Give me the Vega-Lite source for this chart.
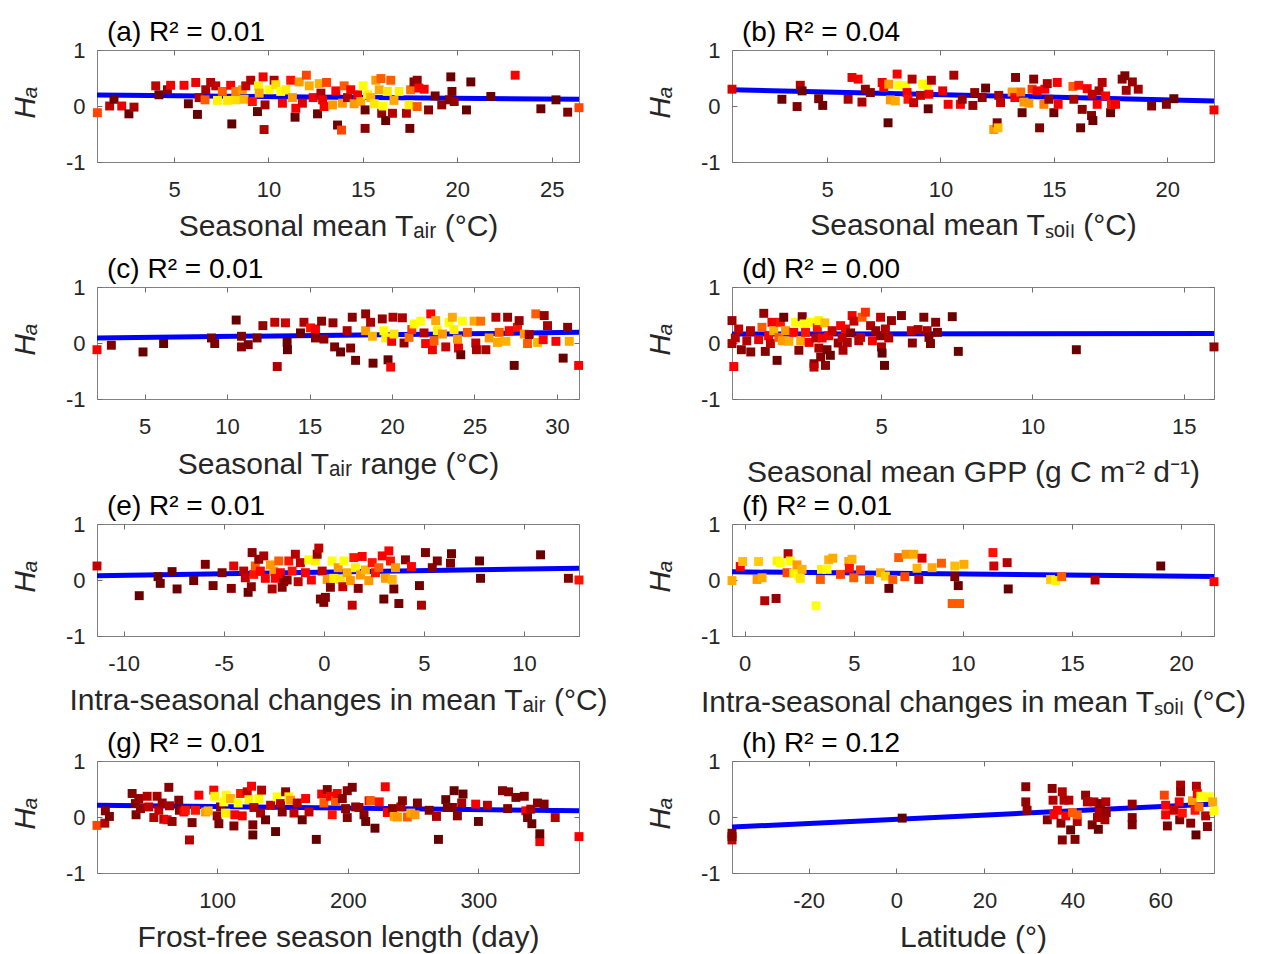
{
"$schema": "https://vega.github.io/schema/vega-lite/v6.json",
"padding": {"left": 9, "top": 18, "right": 5, "bottom": 2},
"background": "white",
"bounds": "flush",
"columns": 2,
"spacing": {"row": 125, "column": 153},
"datasets": {
"a": [{"x":0.94,"y":-0.12,"c":0.42},{"x":1.59,"y":0,"c":0.25},{"x":1.82,"y":0.12,"c":0.05},{"x":2.23,"y":0,"c":0.33},{"x":2.61,"y":-0.14,"c":0.05},{"x":2.88,"y":-0.02,"c":0.2},{"x":4.03,"y":0.36,"c":0.25},{"x":4.2,"y":0.2,"c":0.07},{"x":4.65,"y":0.29,"c":0.12},{"x":4.82,"y":0.37,"c":0.35},{"x":5.53,"y":0.37,"c":0.36},{"x":5.76,"y":0.04,"c":0.05},{"x":6.15,"y":0.42,"c":0.33},{"x":6.24,"y":-0.15,"c":0.03},{"x":6.33,"y":0.15,"c":0.2},{"x":6.64,"y":0.11,"c":0.45},{"x":6.68,"y":0.29,"c":0.18},{"x":6.94,"y":0.42,"c":0.22},{"x":7.21,"y":0.36,"c":0.25},{"x":7.3,"y":0.1,"c":0.72},{"x":7.56,"y":0.26,"c":0.45},{"x":7.83,"y":0.1,"c":0.7},{"x":8.0,"y":0.37,"c":0.36},{"x":8.06,"y":-0.32,"c":0.03},{"x":8.27,"y":0.11,"c":0.68},{"x":8.27,"y":0.26,"c":0.5},{"x":8.62,"y":0.29,"c":0.55},{"x":8.71,"y":0.12,"c":0.6},{"x":8.8,"y":0.36,"c":0.25},{"x":9.06,"y":0.46,"c":0.22},{"x":9.15,"y":0.08,"c":0.38},{"x":9.42,"y":-0.1,"c":0.04},{"x":9.47,"y":0.36,"c":0.72},{"x":9.51,"y":0.23,"c":0.58},{"x":9.72,"y":0.52,"c":0.35},{"x":9.77,"y":-0.42,"c":0.22},{"x":9.82,"y":0.02,"c":0.18},{"x":10.04,"y":0.29,"c":0.75},{"x":10.3,"y":0.46,"c":0.2},{"x":10.39,"y":0.38,"c":0.68},{"x":10.65,"y":0.26,"c":0.78},{"x":10.74,"y":0.05,"c":0.35},{"x":10.92,"y":0.29,"c":0.72},{"x":11.18,"y":0.46,"c":0.38},{"x":11.27,"y":0.15,"c":0.55},{"x":11.41,"y":-0.2,"c":0.04},{"x":11.45,"y":-0.04,"c":0.36},{"x":11.63,"y":0.43,"c":0.55},{"x":11.8,"y":0.05,"c":0.3},{"x":12.01,"y":0.55,"c":0.42},{"x":12.16,"y":0.36,"c":0.58},{"x":12.37,"y":0.15,"c":0.35},{"x":12.6,"y":-0.14,"c":0.05},{"x":12.69,"y":0.4,"c":0.6},{"x":12.78,"y":0.23,"c":0.2},{"x":12.87,"y":0.11,"c":0.34},{"x":12.95,"y":-0.01,"c":0.35},{"x":13.08,"y":0.42,"c":0.42},{"x":13.4,"y":0.02,"c":0.55},{"x":13.57,"y":0.27,"c":0.36},{"x":13.66,"y":-0.34,"c":0.06},{"x":13.87,"y":-0.43,"c":0.42},{"x":13.92,"y":0.05,"c":0.55},{"x":14.01,"y":0.36,"c":0.45},{"x":14.19,"y":0.15,"c":0.22},{"x":14.36,"y":0.29,"c":0.36},{"x":14.54,"y":0.04,"c":0.55},{"x":14.72,"y":0.2,"c":0.34},{"x":14.89,"y":0.08,"c":0.58},{"x":15.02,"y":0.36,"c":0.75},{"x":15.12,"y":-0.07,"c":0.05},{"x":15.12,"y":-0.4,"c":0.12},{"x":15.25,"y":0.2,"c":0.72},{"x":15.42,"y":0.15,"c":0.6},{"x":15.6,"y":0.04,"c":0.7},{"x":15.69,"y":0.46,"c":0.55},{"x":15.87,"y":0.29,"c":0.58},{"x":15.96,"y":0.49,"c":0.45},{"x":16.0,"y":-0.13,"c":0.15},{"x":16.07,"y":0,"c":0.75},{"x":16.21,"y":-0.26,"c":0.04},{"x":16.3,"y":0.26,"c":0.7},{"x":16.48,"y":0.46,"c":0.45},{"x":16.57,"y":-0.13,"c":0.22},{"x":16.65,"y":0.1,"c":0.58},{"x":16.92,"y":0.26,"c":0.72},{"x":17.31,"y":-0.13,"c":0.22},{"x":17.49,"y":-0.4,"c":0.06},{"x":17.45,"y":0.02,"c":0.72},{"x":17.53,"y":0.29,"c":0.48},{"x":17.71,"y":0.43,"c":0.12},{"x":17.88,"y":0.46,"c":0.14},{"x":17.97,"y":0.32,"c":0.37},{"x":17.88,"y":-0.01,"c":0.45},{"x":18.25,"y":0.3,"c":0.36},{"x":18.48,"y":-0.07,"c":0.12},{"x":18.83,"y":0.18,"c":0.08},{"x":19.18,"y":0.02,"c":0.14},{"x":19.66,"y":0.52,"c":0.05},{"x":19.72,"y":0.26,"c":0.08},{"x":19.58,"y":0.11,"c":0.1},{"x":19.84,"y":0.08,"c":0.15},{"x":20.49,"y":-0.07,"c":0.05},{"x":20.72,"y":0.43,"c":0.04},{"x":21.78,"y":0.17,"c":0.04},{"x":23.07,"y":0.55,"c":0.37},{"x":24.43,"y":-0.05,"c":0.05},{"x":25.23,"y":0.11,"c":0.03},{"x":25.85,"y":-0.11,"c":0.1},{"x":26.45,"y":-0.03,"c":0.42}],
"b": [{"x":0.81,"y":0.3,"c":0.3},{"x":3.01,"y":0.12,"c":0.06},{"x":3.68,"y":-0.01,"c":0.1},{"x":3.82,"y":0.37,"c":0.22},{"x":3.9,"y":0.27,"c":0.05},{"x":4.63,"y":0.13,"c":0.1},{"x":4.81,"y":0.01,"c":0.06},{"x":5.93,"y":0.12,"c":0.2},{"x":6.1,"y":0.51,"c":0.33},{"x":6.37,"y":0.48,"c":0.36},{"x":6.54,"y":0.07,"c":0.2},{"x":6.69,"y":0.3,"c":0.15},{"x":6.91,"y":0.24,"c":0.12},{"x":7.43,"y":0.42,"c":0.34},{"x":7.5,"y":0.33,"c":0.36},{"x":7.69,"y":-0.3,"c":0.03},{"x":7.72,"y":0.39,"c":0.55},{"x":7.79,"y":0.11,"c":0.55},{"x":8.01,"y":0.09,"c":0.58},{"x":8.09,"y":0.57,"c":0.36},{"x":8.16,"y":0.37,"c":0.78},{"x":8.46,"y":0.36,"c":0.85},{"x":8.53,"y":0.24,"c":0.36},{"x":8.57,"y":0.12,"c":0.38},{"x":8.75,"y":0.48,"c":0.22},{"x":8.82,"y":0.06,"c":0.25},{"x":9.12,"y":0.19,"c":0.25},{"x":9.22,"y":0.39,"c":0.75},{"x":9.41,"y":0.37,"c":0.78},{"x":9.46,"y":-0.05,"c":0.04},{"x":9.49,"y":0.21,"c":0.35},{"x":9.6,"y":0.46,"c":0.2},{"x":10.1,"y":0.27,"c":0.33},{"x":10.34,"y":0.03,"c":0.36},{"x":10.59,"y":0.55,"c":0.2},{"x":10.88,"y":0.03,"c":0.36},{"x":10.96,"y":0.12,"c":0.15},{"x":11.43,"y":0.01,"c":0.15},{"x":11.51,"y":0.24,"c":0.15},{"x":11.84,"y":0.15,"c":0.15},{"x":11.99,"y":0.32,"c":0.05},{"x":12.35,"y":-0.42,"c":0.55},{"x":12.5,"y":-0.3,"c":0.1},{"x":12.54,"y":-0.39,"c":0.62},{"x":12.57,"y":0.19,"c":0.2},{"x":12.65,"y":0.06,"c":0.25},{"x":13.16,"y":0.25,"c":0.55},{"x":13.28,"y":0.15,"c":0.36},{"x":13.31,"y":0.51,"c":0.1},{"x":13.54,"y":0.25,"c":0.48},{"x":13.6,"y":-0.12,"c":0.05},{"x":13.68,"y":0.07,"c":0.55},{"x":13.9,"y":0.05,"c":0.55},{"x":14.04,"y":0.3,"c":0.4},{"x":14.11,"y":0.48,"c":0.12},{"x":14.26,"y":0.27,"c":0.36},{"x":14.37,"y":-0.39,"c":0.1},{"x":14.56,"y":0.03,"c":0.5},{"x":14.6,"y":0.3,"c":0.37},{"x":14.71,"y":0.4,"c":0.2},{"x":14.78,"y":0.12,"c":0.15},{"x":15.0,"y":-0.12,"c":0.06},{"x":15.15,"y":0.42,"c":0.36},{"x":15.19,"y":0.03,"c":0.36},{"x":15.84,"y":0.35,"c":0.45},{"x":15.88,"y":0.12,"c":0.2},{"x":16.1,"y":0.37,"c":0.38},{"x":16.18,"y":-0.39,"c":0.05},{"x":16.25,"y":-0.06,"c":0.12},{"x":16.47,"y":0.31,"c":0.36},{"x":16.66,"y":-0.17,"c":0.12},{"x":16.72,"y":-0.26,"c":0.05},{"x":16.69,"y":0.21,"c":0.25},{"x":16.91,"y":0.03,"c":0.36},{"x":16.99,"y":0.27,"c":0.2},{"x":17.13,"y":0.42,"c":0.22},{"x":17.28,"y":0.18,"c":0.37},{"x":17.5,"y":-0.12,"c":0.05},{"x":17.54,"y":0.03,"c":0.38},{"x":17.72,"y":0.03,"c":0.35},{"x":18.01,"y":0.48,"c":0.12},{"x":18.13,"y":0.54,"c":0.1},{"x":18.19,"y":0.28,"c":0.18},{"x":18.46,"y":0.43,"c":0.15},{"x":18.72,"y":0.3,"c":0.18},{"x":19.31,"y":0,"c":0.1},{"x":19.96,"y":0.03,"c":0.1},{"x":20.29,"y":0.13,"c":0.05},{"x":22.06,"y":-0.07,"c":0.35}],
"c": [{"x":2.11,"y":-0.12,"c":0.36},{"x":2.98,"y":-0.04,"c":0.1},{"x":4.9,"y":-0.16,"c":0.04},{"x":6.15,"y":-0.01,"c":0.04},{"x":9.05,"y":0.09,"c":0.08},{"x":9.25,"y":-0.01,"c":0.1},{"x":10.55,"y":0.41,"c":0.04},{"x":10.87,"y":0.12,"c":0.1},{"x":10.87,"y":-0.07,"c":0.12},{"x":11.28,"y":-0.03,"c":0.1},{"x":11.82,"y":0.09,"c":0.1},{"x":12.17,"y":0.31,"c":0.15},{"x":12.89,"y":0.37,"c":0.25},{"x":13.04,"y":-0.42,"c":0.2},{"x":13.54,"y":0.36,"c":0.28},{"x":13.64,"y":0.01,"c":0.05},{"x":13.66,"y":-0.12,"c":0.04},{"x":14.45,"y":0.18,"c":0.05},{"x":14.66,"y":0.37,"c":0.2},{"x":15.06,"y":0.27,"c":0.38},{"x":15.36,"y":0.25,"c":0.36},{"x":15.36,"y":0.09,"c":0.12},{"x":15.73,"y":0.39,"c":0.12},{"x":15.87,"y":0.07,"c":0.15},{"x":16.42,"y":0.36,"c":0.15},{"x":16.52,"y":-0.07,"c":0.1},{"x":16.88,"y":-0.16,"c":0.05},{"x":17.28,"y":0.22,"c":0.2},{"x":17.49,"y":-0.09,"c":0.12},{"x":17.59,"y":0.46,"c":0.12},{"x":17.79,"y":-0.31,"c":0.05},{"x":18.4,"y":0.22,"c":0.55},{"x":18.4,"y":0.52,"c":0.15},{"x":18.7,"y":0.37,"c":0.2},{"x":18.81,"y":0.12,"c":0.6},{"x":18.85,"y":-0.36,"c":0.06},{"x":19.41,"y":0.43,"c":0.15},{"x":19.51,"y":0.22,"c":0.75},{"x":19.62,"y":0.09,"c":0.72},{"x":19.76,"y":-0.3,"c":0.05},{"x":19.92,"y":-0.43,"c":0.37},{"x":19.98,"y":0.03,"c":0.36},{"x":20.06,"y":0.46,"c":0.2},{"x":20.12,"y":0.16,"c":0.7},{"x":20.63,"y":0.45,"c":0.2},{"x":20.73,"y":0,"c":0.15},{"x":21.03,"y":0.1,"c":0.48},{"x":21.2,"y":0.24,"c":0.4},{"x":21.34,"y":0.34,"c":0.75},{"x":21.74,"y":0.39,"c":0.85},{"x":21.94,"y":0.18,"c":0.22},{"x":22.04,"y":-0.01,"c":0.37},{"x":22.35,"y":0.52,"c":0.37},{"x":22.45,"y":-0.12,"c":0.35},{"x":22.55,"y":0.04,"c":0.45},{"x":22.65,"y":0.4,"c":0.58},{"x":22.75,"y":0.22,"c":0.72},{"x":23.06,"y":0.16,"c":0.55},{"x":23.26,"y":-0.07,"c":0.25},{"x":23.46,"y":0.37,"c":0.75},{"x":23.66,"y":0.46,"c":0.58},{"x":23.76,"y":0.24,"c":0.72},{"x":23.97,"y":0.07,"c":0.55},{"x":24.03,"y":-0.09,"c":0.33},{"x":24.17,"y":-0.21,"c":0.05},{"x":24.27,"y":0.39,"c":0.85},{"x":24.57,"y":0.19,"c":0.45},{"x":24.98,"y":0.39,"c":0.58},{"x":25.08,"y":0,"c":0.25},{"x":25.12,"y":-0.12,"c":0.2},{"x":25.38,"y":0.39,"c":0.48},{"x":25.69,"y":-0.12,"c":0.2},{"x":25.89,"y":0.09,"c":0.55},{"x":26.3,"y":0.46,"c":0.22},{"x":26.4,"y":0.01,"c":0.58},{"x":26.5,"y":0.19,"c":0.45},{"x":26.91,"y":0.03,"c":0.6},{"x":27.01,"y":0.46,"c":0.15},{"x":27.11,"y":0.22,"c":0.37},{"x":27.41,"y":-0.4,"c":0.05},{"x":27.61,"y":0.28,"c":0.38},{"x":27.71,"y":0.4,"c":0.15},{"x":28.02,"y":0.16,"c":0.55},{"x":28.22,"y":-0.01,"c":0.45},{"x":28.32,"y":0.15,"c":0.15},{"x":28.72,"y":0.52,"c":0.45},{"x":28.83,"y":0.01,"c":0.6},{"x":29.23,"y":0.49,"c":0.15},{"x":29.17,"y":0.06,"c":0.37},{"x":29.43,"y":0.31,"c":0.2},{"x":29.94,"y":0.03,"c":0.36},{"x":30.38,"y":-0.27,"c":0.05},{"x":30.65,"y":0.28,"c":0.12},{"x":30.75,"y":0.03,"c":0.58},{"x":31.32,"y":-0.4,"c":0.36}],
"d": [{"x":0.07,"y":0.4,"c":0.15},{"x":0.07,"y":-0.01,"c":0.2},{"x":0.13,"y":-0.42,"c":0.37},{"x":0.18,"y":0.09,"c":0.22},{"x":0.29,"y":0.25,"c":0.25},{"x":0.38,"y":-0.12,"c":0.12},{"x":0.56,"y":0.04,"c":0.22},{"x":0.68,"y":0.22,"c":0.22},{"x":0.69,"y":-0.16,"c":0.12},{"x":0.95,"y":0.06,"c":0.33},{"x":1.06,"y":0.28,"c":0.45},{"x":1.12,"y":0.53,"c":0.15},{"x":1.17,"y":-0.15,"c":0.12},{"x":1.28,"y":0.13,"c":0.36},{"x":1.34,"y":-0.01,"c":0.25},{"x":1.39,"y":0.37,"c":0.35},{"x":1.45,"y":0.22,"c":0.6},{"x":1.56,"y":-0.31,"c":0.05},{"x":1.62,"y":0.1,"c":0.45},{"x":1.67,"y":0.37,"c":0.38},{"x":1.73,"y":0.04,"c":0.55},{"x":1.78,"y":0.46,"c":0.06},{"x":1.84,"y":0.22,"c":0.55},{"x":1.95,"y":0.03,"c":0.58},{"x":2.11,"y":0.19,"c":0.37},{"x":2.17,"y":0.37,"c":0.75},{"x":2.28,"y":-0.13,"c":0.12},{"x":2.34,"y":0.04,"c":0.58},{"x":2.39,"y":0.47,"c":0.1},{"x":2.45,"y":0.34,"c":0.85},{"x":2.5,"y":0.19,"c":0.38},{"x":2.62,"y":0.01,"c":0.36},{"x":2.67,"y":0.37,"c":0.78},{"x":2.78,"y":-0.37,"c":0.12},{"x":2.78,"y":-0.43,"c":0.25},{"x":2.84,"y":0.09,"c":0.22},{"x":2.89,"y":0.27,"c":0.38},{"x":2.94,"y":-0.09,"c":0.2},{"x":2.94,"y":0.4,"c":0.72},{"x":3.0,"y":-0.25,"c":0.12},{"x":3.05,"y":0.09,"c":0.35},{"x":3.14,"y":0.36,"c":0.62},{"x":3.16,"y":-0.4,"c":0.12},{"x":3.21,"y":-0.12,"c":0.1},{"x":3.27,"y":0.13,"c":0.36},{"x":3.32,"y":-0.22,"c":0.05},{"x":3.38,"y":0.22,"c":0.25},{"x":3.58,"y":0,"c":0.15},{"x":3.66,"y":0.31,"c":0.37},{"x":3.71,"y":0.09,"c":0.25},{"x":3.74,"y":-0.13,"c":0.2},{"x":3.82,"y":0.25,"c":0.36},{"x":3.88,"y":0.01,"c":0.2},{"x":3.99,"y":0.18,"c":0.12},{"x":4.04,"y":0.49,"c":0.36},{"x":4.1,"y":0.39,"c":0.25},{"x":4.26,"y":0.04,"c":0.22},{"x":4.32,"y":0.1,"c":0.25},{"x":4.37,"y":0.46,"c":0.45},{"x":4.48,"y":0.55,"c":0.4},{"x":4.65,"y":0.31,"c":0.2},{"x":4.71,"y":0.04,"c":0.36},{"x":4.82,"y":0.22,"c":0.15},{"x":4.98,"y":0.46,"c":0.25},{"x":4.98,"y":0.13,"c":0.12},{"x":5.01,"y":-0.07,"c":0.2},{"x":5.03,"y":-0.18,"c":0.04},{"x":5.11,"y":-0.4,"c":0.04},{"x":5.14,"y":0.25,"c":0.22},{"x":5.25,"y":0.09,"c":0.22},{"x":5.34,"y":0.4,"c":0.15},{"x":5.67,"y":0.49,"c":0.1},{"x":6.0,"y":0.22,"c":0.25},{"x":6.03,"y":0,"c":0.12},{"x":6.22,"y":0.24,"c":0.2},{"x":6.41,"y":0.46,"c":0.1},{"x":6.52,"y":0.22,"c":0.2},{"x":6.58,"y":0.1,"c":0.1},{"x":6.63,"y":-0.01,"c":0.1},{"x":6.8,"y":0.37,"c":0.12},{"x":6.86,"y":0.19,"c":0.1},{"x":7.35,"y":0.47,"c":0.05},{"x":7.55,"y":-0.15,"c":0.05},{"x":11.45,"y":-0.12,"c":0.04},{"x":16.0,"y":-0.07,"c":0.15}],
"e": [{"x":-11.33,"y":0.25,"c":0.25},{"x":-9.22,"y":-0.28,"c":0.04},{"x":-8.28,"y":0.06,"c":0.05},{"x":-8.17,"y":-0.06,"c":0.06},{"x":-7.58,"y":0.15,"c":0.05},{"x":-7.33,"y":-0.16,"c":0.06},{"x":-6.5,"y":-0.01,"c":0.06},{"x":-5.92,"y":0.28,"c":0.1},{"x":-5.53,"y":-0.1,"c":0.08},{"x":-5.08,"y":0.13,"c":0.1},{"x":-4.62,"y":-0.15,"c":0.12},{"x":-4.5,"y":0.25,"c":0.33},{"x":-4.0,"y":0.16,"c":0.22},{"x":-3.92,"y":0.04,"c":0.25},{"x":-3.78,"y":-0.22,"c":0.05},{"x":-3.62,"y":-0.12,"c":0.12},{"x":-3.58,"y":0.49,"c":0.12},{"x":-3.5,"y":0.1,"c":0.38},{"x":-3.42,"y":0.25,"c":0.45},{"x":-3.25,"y":0.37,"c":0.15},{"x":-3.17,"y":0.16,"c":0.37},{"x":-3.0,"y":0.43,"c":0.2},{"x":-2.92,"y":0.03,"c":0.36},{"x":-2.67,"y":0.27,"c":0.55},{"x":-2.58,"y":-0.16,"c":0.2},{"x":-2.5,"y":0.16,"c":0.55},{"x":-2.42,"y":0.03,"c":0.37},{"x":-2.25,"y":0.34,"c":0.45},{"x":-2.17,"y":0.13,"c":0.37},{"x":-2.08,"y":-0.13,"c":0.12},{"x":-2.0,"y":-0.03,"c":0.12},{"x":-1.83,"y":0,"c":0.12},{"x":-1.75,"y":0.34,"c":0.38},{"x":-1.58,"y":0.16,"c":0.38},{"x":-1.42,"y":0.46,"c":0.22},{"x":-1.28,"y":-0.03,"c":0.25},{"x":-1.17,"y":0.31,"c":0.25},{"x":-0.92,"y":0.13,"c":0.36},{"x":-0.75,"y":0.36,"c":0.75},{"x":-0.62,"y":0,"c":0.37},{"x":-0.42,"y":0.34,"c":0.72},{"x":-0.33,"y":0.46,"c":0.15},{"x":-0.25,"y":0.57,"c":0.25},{"x":-0.17,"y":-0.34,"c":0.1},{"x":-0.08,"y":0.16,"c":0.25},{"x":0,"y":-0.4,"c":0.1},{"x":0.08,"y":-0.31,"c":0.1},{"x":0.17,"y":0.01,"c":0.55},{"x":0.33,"y":-0.13,"c":0.12},{"x":0.42,"y":0.34,"c":0.88},{"x":0.5,"y":0.03,"c":0.72},{"x":0.72,"y":0.22,"c":0.55},{"x":0.83,"y":0.01,"c":0.7},{"x":0.95,"y":-0.12,"c":0.25},{"x":1.0,"y":0.34,"c":0.75},{"x":1.17,"y":0.13,"c":0.58},{"x":1.33,"y":-0.01,"c":0.55},{"x":1.42,"y":-0.45,"c":0.25},{"x":1.5,"y":0.4,"c":0.38},{"x":1.58,"y":0.22,"c":0.72},{"x":1.72,"y":-0.15,"c":0.12},{"x":1.83,"y":0.09,"c":0.55},{"x":1.92,"y":0.42,"c":0.37},{"x":2.08,"y":0.18,"c":0.6},{"x":2.25,"y":-0.01,"c":0.55},{"x":2.42,"y":0.31,"c":0.38},{"x":2.58,"y":0.13,"c":0.38},{"x":2.75,"y":0.22,"c":0.45},{"x":2.92,"y":0.43,"c":0.36},{"x":3.0,"y":-0.34,"c":0.05},{"x":3.08,"y":0.03,"c":0.55},{"x":3.25,"y":0.52,"c":0.37},{"x":3.33,"y":0.34,"c":0.38},{"x":3.42,"y":0.01,"c":0.6},{"x":3.5,"y":-0.16,"c":0.06},{"x":3.58,"y":0.22,"c":0.55},{"x":3.75,"y":-0.42,"c":0.08},{"x":4.08,"y":0.36,"c":0.12},{"x":4.38,"y":0.24,"c":0.37},{"x":4.78,"y":-0.1,"c":0.05},{"x":4.88,"y":-0.45,"c":0.2},{"x":5.08,"y":0.49,"c":0.1},{"x":5.42,"y":0.22,"c":0.12},{"x":5.67,"y":0.34,"c":0.1},{"x":6.38,"y":0.47,"c":0.06},{"x":6.33,"y":0.3,"c":0.1},{"x":7.78,"y":0.34,"c":0.05},{"x":7.83,"y":0.03,"c":0.05},{"x":10.83,"y":0.45,"c":0.05},{"x":12.22,"y":0.03,"c":0.1},{"x":12.75,"y":0,"c":0.38}],
"f": [{"x":-0.58,"y":-0.01,"c":0.58},{"x":-0.2,"y":0.24,"c":0.36},{"x":-0.09,"y":0.33,"c":0.62},{"x":0.57,"y":0.01,"c":0.55},{"x":0.64,"y":0.33,"c":0.65},{"x":0.8,"y":0.04,"c":0.58},{"x":0.92,"y":-0.37,"c":0.22},{"x":1.44,"y":-0.33,"c":0.15},{"x":1.49,"y":0.34,"c":0.72},{"x":1.64,"y":0.31,"c":0.75},{"x":1.94,"y":0.13,"c":0.42},{"x":1.99,"y":0.47,"c":0.22},{"x":2.09,"y":0.34,"c":0.75},{"x":2.25,"y":0.12,"c":0.72},{"x":2.4,"y":0.27,"c":0.55},{"x":2.48,"y":0.07,"c":0.75},{"x":2.55,"y":0.03,"c":0.7},{"x":2.63,"y":0.19,"c":0.6},{"x":3.27,"y":-0.46,"c":0.95},{"x":3.47,"y":0.01,"c":0.45},{"x":3.52,"y":0.19,"c":0.72},{"x":3.78,"y":0.19,"c":0.75},{"x":3.85,"y":0.36,"c":0.6},{"x":4.04,"y":0.39,"c":0.58},{"x":4.39,"y":0.1,"c":0.42},{"x":4.77,"y":0.33,"c":0.58},{"x":4.8,"y":0.21,"c":0.38},{"x":4.92,"y":0.37,"c":0.6},{"x":5.0,"y":0.04,"c":0.45},{"x":5.31,"y":0.18,"c":0.42},{"x":5.72,"y":0.01,"c":0.45},{"x":6.22,"y":0.13,"c":0.58},{"x":6.45,"y":0.07,"c":0.65},{"x":6.61,"y":-0.15,"c":0.04},{"x":6.79,"y":0.01,"c":0.45},{"x":7.06,"y":0.4,"c":0.45},{"x":7.34,"y":0.06,"c":0.42},{"x":7.4,"y":0.46,"c":0.55},{"x":7.75,"y":0.46,"c":0.58},{"x":7.9,"y":0.21,"c":0.6},{"x":7.98,"y":0.01,"c":0.28},{"x":8.13,"y":0.39,"c":0.3},{"x":8.59,"y":0.22,"c":0.58},{"x":9.02,"y":0.3,"c":0.45},{"x":9.51,"y":-0.42,"c":0.45},{"x":9.63,"y":0.06,"c":0.1},{"x":9.63,"y":0.25,"c":0.62},{"x":9.79,"y":-0.1,"c":0.05},{"x":9.85,"y":-0.42,"c":0.45},{"x":10.05,"y":0.28,"c":0.58},{"x":11.38,"y":0.49,"c":0.38},{"x":11.42,"y":0.25,"c":0.28},{"x":12.03,"y":0.31,"c":0.22},{"x":12.08,"y":-0.16,"c":0.04},{"x":14.02,"y":0.01,"c":0.65},{"x":14.25,"y":-0.01,"c":0.72},{"x":14.53,"y":0.06,"c":0.45},{"x":16.06,"y":0,"c":0.22},{"x":19.07,"y":0.25,"c":0.04},{"x":21.51,"y":-0.03,"c":0.37}],
"g": [{"x":8,"y":-0.15,"c":0.42},{"x":14,"y":-0.11,"c":0.22},{"x":14.4,"y":0.11,"c":0.12},{"x":17.5,"y":0.01,"c":0.1},{"x":34.9,"y":0.42,"c":0.12},{"x":37.4,"y":0.24,"c":0.1},{"x":37.9,"y":0.04,"c":0.1},{"x":40,"y":0.33,"c":0.15},{"x":41.3,"y":0.15,"c":0.15},{"x":46.4,"y":0.37,"c":0.22},{"x":47.6,"y":0.18,"c":0.25},{"x":51.5,"y":-0.01,"c":0.22},{"x":54,"y":0.37,"c":0.2},{"x":55.3,"y":0.12,"c":0.25},{"x":57.9,"y":0.25,"c":0.15},{"x":59.1,"y":-0.04,"c":0.25},{"x":61.7,"y":-0.05,"c":0.35},{"x":63,"y":0.53,"c":0.12},{"x":63.5,"y":0.2,"c":0.2},{"x":65.5,"y":-0.08,"c":0.15},{"x":70.6,"y":0.3,"c":0.12},{"x":71.1,"y":0.12,"c":0.12},{"x":74.5,"y":0.09,"c":0.36},{"x":75.7,"y":0.12,"c":0.38},{"x":78.8,"y":-0.41,"c":0.22},{"x":80.8,"y":-0.1,"c":0.1},{"x":83.4,"y":0.12,"c":0.38},{"x":86,"y":0.39,"c":0.37},{"x":91.1,"y":0.09,"c":0.55},{"x":93.1,"y":0.11,"c":0.6},{"x":97.4,"y":0.48,"c":0.37},{"x":98.2,"y":0.37,"c":0.72},{"x":100,"y":0.02,"c":0.15},{"x":101.3,"y":-0.12,"c":0.1},{"x":102.6,"y":0.18,"c":0.12},{"x":105.1,"y":0.27,"c":0.85},{"x":106.4,"y":0.07,"c":0.72},{"x":106.9,"y":0.39,"c":0.75},{"x":110.2,"y":0.33,"c":0.6},{"x":112.8,"y":-0.16,"c":0.1},{"x":113.5,"y":0.04,"c":0.37},{"x":116.1,"y":0.25,"c":0.75},{"x":117.9,"y":0.42,"c":0.38},{"x":119.2,"y":0.02,"c":0.36},{"x":123,"y":0.45,"c":0.25},{"x":124.3,"y":0.31,"c":0.72},{"x":126.3,"y":0.55,"c":0.37},{"x":127.3,"y":-0.32,"c":0.04},{"x":127.3,"y":-0.14,"c":0.1},{"x":128.1,"y":0.17,"c":0.22},{"x":131.9,"y":0.33,"c":0.75},{"x":133.2,"y":0.07,"c":0.2},{"x":134,"y":0.48,"c":0.22},{"x":137,"y":-0.05,"c":0.06},{"x":140.9,"y":0.21,"c":0.25},{"x":144.7,"y":-0.26,"c":0.04},{"x":146,"y":0.36,"c":0.85},{"x":148.5,"y":0.24,"c":0.22},{"x":149.8,"y":0.09,"c":0.12},{"x":152.4,"y":0.45,"c":0.12},{"x":154.9,"y":0.36,"c":0.72},{"x":156.2,"y":0.3,"c":0.55},{"x":158.8,"y":0.07,"c":0.25},{"x":161.3,"y":0.25,"c":0.22},{"x":165.1,"y":-0.05,"c":0.05},{"x":167.7,"y":0.33,"c":0.37},{"x":170.3,"y":0.09,"c":0.25},{"x":175.9,"y":-0.4,"c":0.04},{"x":180,"y":0.41,"c":0.37},{"x":181.7,"y":0.25,"c":0.45},{"x":184.3,"y":0.49,"c":0.1},{"x":186.8,"y":0.37,"c":0.37},{"x":188.1,"y":0.04,"c":0.38},{"x":190.6,"y":0.29,"c":0.45},{"x":191.9,"y":0.42,"c":0.36},{"x":195.8,"y":0.33,"c":0.12},{"x":198.3,"y":0.15,"c":0.12},{"x":199.6,"y":-0.01,"c":0.12},{"x":199.6,"y":0.47,"c":0.12},{"x":203.4,"y":0.53,"c":0.1},{"x":206,"y":0.18,"c":0.15},{"x":208.6,"y":0.17,"c":0.15},{"x":212.4,"y":0.04,"c":0.12},{"x":213.7,"y":-0.08,"c":0.06},{"x":216.3,"y":0.29,"c":0.37},{"x":217.5,"y":0.29,"c":0.45},{"x":220.8,"y":-0.2,"c":0.04},{"x":224.1,"y":0.27,"c":0.38},{"x":228.7,"y":0.54,"c":0.36},{"x":230.3,"y":0.08,"c":0.37},{"x":234.2,"y":0.15,"c":0.12},{"x":235.5,"y":0.01,"c":0.58},{"x":238,"y":0,"c":0.55},{"x":240.6,"y":0.18,"c":0.2},{"x":241.8,"y":0.29,"c":0.12},{"x":245.6,"y":0,"c":0.45},{"x":248.2,"y":0.07,"c":0.58},{"x":251.5,"y":0.04,"c":0.55},{"x":253.3,"y":0.25,"c":0.1},{"x":262.3,"y":0.12,"c":0.1},{"x":267.9,"y":0.01,"c":0.2},{"x":269.4,"y":-0.4,"c":0.04},{"x":275,"y":0.31,"c":0.04},{"x":276.2,"y":0.17,"c":0.1},{"x":280.1,"y":0.17,"c":0.1},{"x":281.4,"y":0.47,"c":0.04},{"x":283.9,"y":0.02,"c":0.12},{"x":287.2,"y":0.25,"c":0.2},{"x":288.2,"y":0.41,"c":0.05},{"x":297.9,"y":0.23,"c":0.36},{"x":300,"y":-0.08,"c":0.04},{"x":306.9,"y":0.21,"c":0.22},{"x":318.4,"y":0.47,"c":0.12},{"x":322.4,"y":0.15,"c":0.1},{"x":323.1,"y":0.45,"c":0.12},{"x":328.7,"y":0.35,"c":0.1},{"x":335.1,"y":0.37,"c":0.1},{"x":336.3,"y":0.11,"c":0.36},{"x":337.6,"y":-0.01,"c":0.1},{"x":340.1,"y":0.14,"c":0.2},{"x":340.9,"y":-0.12,"c":0.05},{"x":345.2,"y":0.25,"c":0.12},{"x":347,"y":-0.44,"c":0.36},{"x":347,"y":-0.3,"c":0.04},{"x":350.3,"y":0.23,"c":0.1},{"x":358.8,"y":-0.01,"c":0.22},{"x":377,"y":-0.35,"c":0.36}],
"h": [{"x":-37.4,"y":-0.41,"c":0.25},{"x":-37.4,"y":-0.35,"c":0.12},{"x":-37.4,"y":-0.29,"c":0.12},{"x":1.3,"y":-0.02,"c":0.04},{"x":29.4,"y":0.54,"c":0.12},{"x":29.4,"y":0.27,"c":0.15},{"x":29.7,"y":0.12,"c":0.15},{"x":34.3,"y":-0.05,"c":0.12},{"x":35.4,"y":0.51,"c":0.12},{"x":35.6,"y":0.3,"c":0.2},{"x":35.8,"y":0.04,"c":0.37},{"x":36.6,"y":0.12,"c":0.36},{"x":37.4,"y":-0.11,"c":0.12},{"x":37.7,"y":0.45,"c":0.22},{"x":37.7,"y":-0.41,"c":0.12},{"x":38.1,"y":0.3,"c":0.22},{"x":38.5,"y":0.02,"c":0.36},{"x":39.2,"y":0.3,"c":0.22},{"x":39.6,"y":-0.23,"c":0.05},{"x":40,"y":0.08,"c":0.45},{"x":40.6,"y":-0.4,"c":0.12},{"x":41.1,"y":-0.08,"c":0.22},{"x":41.1,"y":0.04,"c":0.45},{"x":43,"y":0.39,"c":0.15},{"x":43.4,"y":0.27,"c":0.22},{"x":44.5,"y":-0.14,"c":0.1},{"x":44.9,"y":0.27,"c":0.22},{"x":45.7,"y":-0.01,"c":0.2},{"x":45.9,"y":-0.22,"c":0.05},{"x":46.1,"y":0.12,"c":0.2},{"x":46.4,"y":0.24,"c":0.12},{"x":47.4,"y":-0.05,"c":0.2},{"x":47.6,"y":0.27,"c":0.22},{"x":47.7,"y":0.08,"c":0.15},{"x":53.6,"y":0.23,"c":0.15},{"x":53.6,"y":-0.01,"c":0.12},{"x":53.6,"y":-0.14,"c":0.1},{"x":60.9,"y":0.39,"c":0.42},{"x":61.2,"y":0.21,"c":0.37},{"x":61.2,"y":0.04,"c":0.36},{"x":61.6,"y":-0.16,"c":0.1},{"x":63.1,"y":0.12,"c":0.25},{"x":64.3,"y":0.27,"c":0.36},{"x":64.4,"y":-0.05,"c":0.1},{"x":64.6,"y":0.57,"c":0.2},{"x":64.6,"y":0.45,"c":0.15},{"x":65,"y":0.07,"c":0.38},{"x":66.9,"y":-0.11,"c":0.12},{"x":67.3,"y":0.29,"c":0.55},{"x":67.9,"y":0.12,"c":0.38},{"x":68.1,"y":-0.32,"c":0.04},{"x":68.2,"y":0.55,"c":0.22},{"x":68.4,"y":0.42,"c":0.37},{"x":68.8,"y":0.18,"c":0.48},{"x":69.2,"y":0.37,"c":0.88},{"x":70.3,"y":0.02,"c":0.22},{"x":70.7,"y":-0.17,"c":0.12},{"x":71.1,"y":0.36,"c":0.78},{"x":71.9,"y":0.27,"c":0.58},{"x":72.2,"y":0.11,"c":0.75}],
"la": [{"x":0.92,"y":0.196},{"x":26.45,"y":0.12}],
"lb": [{"x":0.81,"y":0.29},{"x":22.06,"y":0.09}],
"lc": [{"x":2.11,"y":0.09},{"x":31.34,"y":0.19}],
"ld": [{"x":0.07,"y":0.16},{"x":16.0,"y":0.17}],
"le": [{"x":-11.33,"y":0.075},{"x":12.75,"y":0.21}],
"lf": [{"x":-0.58,"y":0.146},{"x":21.51,"y":0.063}],
"lg": [{"x":8,"y":0.21},{"x":377,"y":0.11}],
"lh": [{"x":-37.4,"y":-0.18},{"x":72.2,"y":0.23}]
},
"concat": [
{"width":482,"height":112,"title":{"text":"(a) R² = 0.01"},"resolve":{"axis":{"x":"independent","y":"independent"}},"layer":[
 {"data":{"name":"la"},"mark":{"type":"line","color":"#0000ff","strokeWidth":5},"encoding":{"x":{"field":"x","type":"quantitative","scale":{"domain":[0.92,26.45],"nice":false,"zero":false},"axis":{"values":[5,10,15,20,25],"title":"Seasonal mean Tₐᵢᵣ (°C)","titleY":73}},"y":{"field":"y","type":"quantitative","scale":{"domain":[-1,1],"nice":false},"axis":{"values":[-1,0,1],"title":"Hₐ"}}}},
 {"data":{"name":"a"},"mark":{"type":"point","shape":"square","filled":true,"size":80,"opacity":1},"encoding":{"x":{"field":"x","type":"quantitative","axis":null},"y":{"field":"y","type":"quantitative","axis":null},"color":{"field":"c","type":"quantitative","scale":{"domain":[0,0.375,0.75,1],"range":["#000000","#ff0000","#ffff00","#ffffff"]},"legend":null}}},
 {"data":{"name":"la"},"mark":{"type":"line","opacity":0},"encoding":{"x":{"field":"x","type":"quantitative","axis":{"orient":"top","labels":false,"title":null,"values":[5,10,15,20,25]}},"y":{"field":"y","type":"quantitative","axis":{"orient":"right","labels":false,"title":null,"values":[-1,0,1]}}}}
]},
{"width":482,"height":112,"title":{"text":"(b) R² = 0.04"},"resolve":{"axis":{"x":"independent","y":"independent"}},"layer":[
 {"data":{"name":"lb"},"mark":{"type":"line","color":"#0000ff","strokeWidth":5},"encoding":{"x":{"field":"x","type":"quantitative","scale":{"domain":[0.81,22.06],"nice":false,"zero":false},"axis":{"values":[5,10,15,20],"title":"Seasonal mean Tₛₒᵢₗ (°C)","titleY":72}},"y":{"field":"y","type":"quantitative","scale":{"domain":[-1,1],"nice":false},"axis":{"values":[-1,0,1],"title":"Hₐ"}}}},
 {"data":{"name":"b"},"mark":{"type":"point","shape":"square","filled":true,"size":80,"opacity":1},"encoding":{"x":{"field":"x","type":"quantitative","axis":null},"y":{"field":"y","type":"quantitative","axis":null},"color":{"field":"c","type":"quantitative","scale":{"domain":[0,0.375,0.75,1],"range":["#000000","#ff0000","#ffff00","#ffffff"]},"legend":null}}},
 {"data":{"name":"lb"},"mark":{"type":"line","opacity":0},"encoding":{"x":{"field":"x","type":"quantitative","axis":{"orient":"top","labels":false,"title":null,"values":[5,10,15,20]}},"y":{"field":"y","type":"quantitative","axis":{"orient":"right","labels":false,"title":null,"values":[-1,0,1]}}}}
]},
{"width":482,"height":112,"title":{"text":"(c) R² = 0.01"},"resolve":{"axis":{"x":"independent","y":"independent"}},"layer":[
 {"data":{"name":"lc"},"mark":{"type":"line","color":"#0000ff","strokeWidth":5},"encoding":{"x":{"field":"x","type":"quantitative","scale":{"domain":[2.11,31.34],"nice":false,"zero":false},"axis":{"values":[5,10,15,20,25,30],"title":"Seasonal Tₐᵢᵣ range (°C)","titleY":74}},"y":{"field":"y","type":"quantitative","scale":{"domain":[-1,1],"nice":false},"axis":{"values":[-1,0,1],"title":"Hₐ"}}}},
 {"data":{"name":"c"},"mark":{"type":"point","shape":"square","filled":true,"size":80,"opacity":1},"encoding":{"x":{"field":"x","type":"quantitative","axis":null},"y":{"field":"y","type":"quantitative","axis":null},"color":{"field":"c","type":"quantitative","scale":{"domain":[0,0.375,0.75,1],"range":["#000000","#ff0000","#ffff00","#ffffff"]},"legend":null}}},
 {"data":{"name":"lc"},"mark":{"type":"line","opacity":0},"encoding":{"x":{"field":"x","type":"quantitative","axis":{"orient":"top","labels":false,"title":null,"values":[5,10,15,20,25,30]}},"y":{"field":"y","type":"quantitative","axis":{"orient":"right","labels":false,"title":null,"values":[-1,0,1]}}}}
]},
{"width":482,"height":112,"title":{"text":"(d) R² = 0.00"},"resolve":{"axis":{"x":"independent","y":"independent"}},"layer":[
 {"data":{"name":"ld"},"mark":{"type":"line","color":"#0000ff","strokeWidth":5},"encoding":{"x":{"field":"x","type":"quantitative","scale":{"domain":[0.07,16.0],"nice":false,"zero":false},"axis":{"values":[5,10,15],"title":"Seasonal mean GPP (g C m⁻² d⁻¹)","titleY":82}},"y":{"field":"y","type":"quantitative","scale":{"domain":[-1,1],"nice":false},"axis":{"values":[-1,0,1],"title":"Hₐ"}}}},
 {"data":{"name":"d"},"mark":{"type":"point","shape":"square","filled":true,"size":80,"opacity":1},"encoding":{"x":{"field":"x","type":"quantitative","axis":null},"y":{"field":"y","type":"quantitative","axis":null},"color":{"field":"c","type":"quantitative","scale":{"domain":[0,0.375,0.75,1],"range":["#000000","#ff0000","#ffff00","#ffffff"]},"legend":null}}},
 {"data":{"name":"ld"},"mark":{"type":"line","opacity":0},"encoding":{"x":{"field":"x","type":"quantitative","axis":{"orient":"top","labels":false,"title":null,"values":[5,10,15]}},"y":{"field":"y","type":"quantitative","axis":{"orient":"right","labels":false,"title":null,"values":[-1,0,1]}}}}
]},
{"width":482,"height":112,"title":{"text":"(e) R² = 0.01"},"resolve":{"axis":{"x":"independent","y":"independent"}},"layer":[
 {"data":{"name":"le"},"mark":{"type":"line","color":"#0000ff","strokeWidth":5},"encoding":{"x":{"field":"x","type":"quantitative","scale":{"domain":[-11.33,12.75],"nice":false,"zero":false},"axis":{"values":[-10,-5,0,5,10],"title":"Intra-seasonal changes in mean Tₐᵢᵣ (°C)","titleY":73}},"y":{"field":"y","type":"quantitative","scale":{"domain":[-1,1],"nice":false},"axis":{"values":[-1,0,1],"title":"Hₐ"}}}},
 {"data":{"name":"e"},"mark":{"type":"point","shape":"square","filled":true,"size":80,"opacity":1},"encoding":{"x":{"field":"x","type":"quantitative","axis":null},"y":{"field":"y","type":"quantitative","axis":null},"color":{"field":"c","type":"quantitative","scale":{"domain":[0,0.375,0.75,1],"range":["#000000","#ff0000","#ffff00","#ffffff"]},"legend":null}}},
 {"data":{"name":"le"},"mark":{"type":"line","opacity":0},"encoding":{"x":{"field":"x","type":"quantitative","axis":{"orient":"top","labels":false,"title":null,"values":[-10,-5,0,5,10]}},"y":{"field":"y","type":"quantitative","axis":{"orient":"right","labels":false,"title":null,"values":[-1,0,1]}}}}
]},
{"width":482,"height":112,"title":{"text":"(f) R² = 0.01"},"resolve":{"axis":{"x":"independent","y":"independent"}},"layer":[
 {"data":{"name":"lf"},"mark":{"type":"line","color":"#0000ff","strokeWidth":5},"encoding":{"x":{"field":"x","type":"quantitative","scale":{"domain":[-0.58,21.51],"nice":false,"zero":false},"axis":{"values":[0,5,10,15,20],"title":"Intra-seasonal changes in mean Tₛₒᵢₗ (°C)","titleY":75}},"y":{"field":"y","type":"quantitative","scale":{"domain":[-1,1],"nice":false},"axis":{"values":[-1,0,1],"title":"Hₐ"}}}},
 {"data":{"name":"f"},"mark":{"type":"point","shape":"square","filled":true,"size":80,"opacity":1},"encoding":{"x":{"field":"x","type":"quantitative","axis":null},"y":{"field":"y","type":"quantitative","axis":null},"color":{"field":"c","type":"quantitative","scale":{"domain":[0,0.375,0.75,1],"range":["#000000","#ff0000","#ffff00","#ffffff"]},"legend":null}}},
 {"data":{"name":"lf"},"mark":{"type":"line","opacity":0},"encoding":{"x":{"field":"x","type":"quantitative","axis":{"orient":"top","labels":false,"title":null,"values":[0,5,10,15,20]}},"y":{"field":"y","type":"quantitative","axis":{"orient":"right","labels":false,"title":null,"values":[-1,0,1]}}}}
]},
{"width":482,"height":112,"title":{"text":"(g) R² = 0.01"},"resolve":{"axis":{"x":"independent","y":"independent"}},"layer":[
 {"data":{"name":"lg"},"mark":{"type":"line","color":"#0000ff","strokeWidth":5},"encoding":{"x":{"field":"x","type":"quantitative","scale":{"domain":[8,377],"nice":false,"zero":false},"axis":{"values":[100,200,300],"title":"Frost-free season length (day)","titleY":73}},"y":{"field":"y","type":"quantitative","scale":{"domain":[-1,1],"nice":false},"axis":{"values":[-1,0,1],"title":"Hₐ"}}}},
 {"data":{"name":"g"},"mark":{"type":"point","shape":"square","filled":true,"size":80,"opacity":1},"encoding":{"x":{"field":"x","type":"quantitative","axis":null},"y":{"field":"y","type":"quantitative","axis":null},"color":{"field":"c","type":"quantitative","scale":{"domain":[0,0.375,0.75,1],"range":["#000000","#ff0000","#ffff00","#ffffff"]},"legend":null}}},
 {"data":{"name":"lg"},"mark":{"type":"line","opacity":0},"encoding":{"x":{"field":"x","type":"quantitative","axis":{"orient":"top","labels":false,"title":null,"values":[100,200,300]}},"y":{"field":"y","type":"quantitative","axis":{"orient":"right","labels":false,"title":null,"values":[-1,0,1]}}}}
]},
{"width":482,"height":112,"title":{"text":"(h) R² = 0.12"},"resolve":{"axis":{"x":"independent","y":"independent"}},"layer":[
 {"data":{"name":"lh"},"mark":{"type":"line","color":"#0000ff","strokeWidth":5},"encoding":{"x":{"field":"x","type":"quantitative","scale":{"domain":[-37.4,72.2],"nice":false,"zero":false},"axis":{"values":[-20,0,20,40,60],"title":"Latitude (°)","titleY":73}},"y":{"field":"y","type":"quantitative","scale":{"domain":[-1,1],"nice":false},"axis":{"values":[-1,0,1],"title":"Hₐ"}}}},
 {"data":{"name":"h"},"mark":{"type":"point","shape":"square","filled":true,"size":80,"opacity":1},"encoding":{"x":{"field":"x","type":"quantitative","axis":null},"y":{"field":"y","type":"quantitative","axis":null},"color":{"field":"c","type":"quantitative","scale":{"domain":[0,0.375,0.75,1],"range":["#000000","#ff0000","#ffff00","#ffffff"]},"legend":null}}},
 {"data":{"name":"lh"},"mark":{"type":"line","opacity":0},"encoding":{"x":{"field":"x","type":"quantitative","axis":{"orient":"top","labels":false,"title":null,"values":[-20,0,20,40,60]}},"y":{"field":"y","type":"quantitative","axis":{"orient":"right","labels":false,"title":null,"values":[-1,0,1]}}}}
]}
],
"config": {
 "font": "Liberation Sans",
 "view": {"stroke": "#808080", "strokeWidth": 1},
 "axis": {"domain": false, "grid": false, "ticks": true, "tickSize": -5, "tickColor": "#707070", "tickWidth": 1, "labelFont": "Liberation Sans", "labelFontSize": 22, "labelColor": "#262626", "titleFont": "Liberation Sans", "titleFontSize": 30, "titleFontWeight": "normal", "titleColor": "#262626", "labelExpr": "'' + datum.value"},
 "axisX": {"labelPadding": 22, "titleBaseline": "alphabetic"},
 "axisY": {"labelPadding": 17, "titleFontStyle": "italic", "titleBaseline": "alphabetic", "titleX": -63, "titleY": 52, "titleAngle": -90, "titleAlign": "center"},
 "title": {"anchor": "start", "frame": "group", "dx": 10, "offset": -8, "baseline": "alphabetic", "fontSize": 28, "fontWeight": "normal", "color": "#000000", "font": "Liberation Sans"}
}
}
